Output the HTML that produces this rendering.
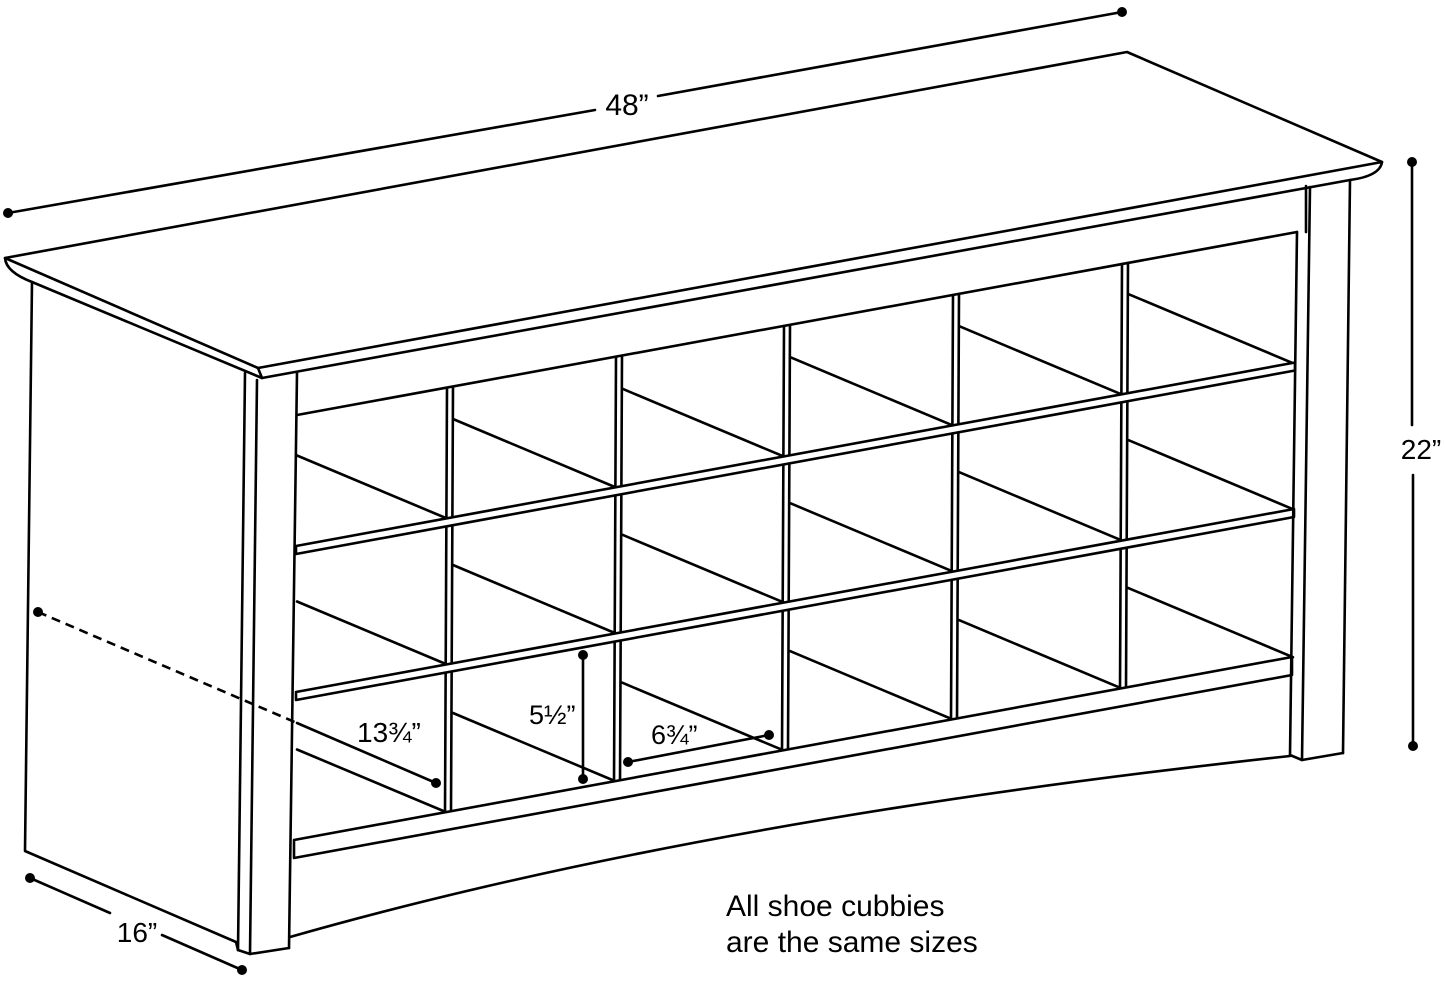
<!DOCTYPE html>
<html><head><meta charset="utf-8"><style>
html,body{margin:0;padding:0;background:#fff;}
svg{display:block;}
text{font-family:"Liberation Sans",Arial,sans-serif;fill:#000;}
</style></head><body>
<svg width="1445" height="983" viewBox="0 0 1445 983" xmlns="http://www.w3.org/2000/svg">
<g fill="none" stroke="#000" stroke-width="2.6" stroke-linejoin="round" stroke-linecap="round">
<polyline points="32,282 25,851 236,942 238,950"/>
<path d="M5,258 L1127,52 L1382,162 L258,368 Z" fill="#fff"/>
<path d="M5,258 Q6,272 32,282 L262,378 L1350,180 Q1380,176 1382,162"/>
<line x1="258" y1="368" x2="262" y2="378"/>
<line x1="297" y1="415" x2="1297" y2="232"/>
<line x1="1306" y1="186" x2="1306" y2="232"/>
<g>
<line x1="447" y1="388" x2="445" y2="812"/><line x1="453" y1="387" x2="451" y2="811"/>
<line x1="616" y1="357" x2="614" y2="782"/><line x1="622" y1="356" x2="620" y2="781"/>
<line x1="784" y1="326" x2="782" y2="751"/><line x1="790" y1="325" x2="788" y2="750"/>
<line x1="953" y1="295" x2="951" y2="720"/><line x1="959" y1="294" x2="957" y2="719"/>
<line x1="1122" y1="264" x2="1120" y2="689"/><line x1="1128" y1="263" x2="1126" y2="688"/>
</g>
<line x1="297" y1="455.5" x2="447" y2="518.5"/>
<line x1="453" y1="419" x2="616" y2="487.5"/>
<line x1="622" y1="388.6" x2="784" y2="456.6"/>
<line x1="790" y1="357.1" x2="953" y2="425.6"/>
<line x1="959" y1="326.1" x2="1122" y2="394.6"/>
<line x1="1128" y1="293.9" x2="1293" y2="363.2"/>
<line x1="297" y1="601.5" x2="447" y2="664.5"/>
<line x1="453" y1="565" x2="616" y2="633.5"/>
<line x1="622" y1="534.6" x2="784" y2="602.6"/>
<line x1="790" y1="503.1" x2="953" y2="571.6"/>
<line x1="959" y1="472.1" x2="1122" y2="540.6"/>
<line x1="1128" y1="439.9" x2="1293" y2="509.2"/>
<line x1="297" y1="749.5" x2="447" y2="812.5"/>
<line x1="453" y1="713" x2="616" y2="781.5"/>
<line x1="622" y1="682.6" x2="784" y2="750.6"/>
<line x1="790" y1="651.1" x2="953" y2="719.6"/>
<line x1="959" y1="620.1" x2="1122" y2="688.6"/>
<line x1="1128" y1="587.9" x2="1293" y2="657.2"/>
<polygon points="296,546 1295,362.5 1295,370.5 296,554" fill="#fff"/>
<polygon points="296,692 1294,509 1294,517 296,700" fill="#fff"/>
<polygon points="294,840 1292,657 1292,675 294,858" fill="#fff"/>
<line x1="245" y1="373" x2="238" y2="950"/>
<line x1="257" y1="380" x2="250" y2="954"/>
<line x1="297" y1="373" x2="289" y2="948"/>
<polyline points="238,950 250,954 289,948"/>
<line x1="1297" y1="232" x2="1290" y2="755"/>
<line x1="1310" y1="187" x2="1302" y2="760"/>
<line x1="1350" y1="180" x2="1343" y2="753"/>
<polyline points="1290,755 1302,760 1343,753"/>
<path d="M290,937 Q700,820 1290,756"/>
<line x1="8" y1="213" x2="595" y2="110"/>
<line x1="658" y1="96" x2="1122" y2="12"/>
<line x1="1412" y1="162" x2="1412" y2="425"/>
<line x1="1413" y1="475" x2="1413" y2="746"/>
<line x1="30" y1="878" x2="110" y2="913"/>
<line x1="162" y1="935" x2="242" y2="970"/>
<line x1="38" y1="612" x2="297" y2="723" stroke-dasharray="9,6" stroke-linecap="butt"/>
<line x1="297" y1="723" x2="436" y2="783"/>
<line x1="583" y1="655" x2="583" y2="779"/>
<line x1="628" y1="762" x2="769" y2="735"/>
</g>
<g fill="#000">
<circle cx="8" cy="213" r="5"/><circle cx="1122" cy="12" r="5"/>
<circle cx="1412" cy="162" r="5"/><circle cx="1413" cy="746" r="5"/>
<circle cx="30" cy="878" r="5"/><circle cx="242" cy="970" r="5"/>
<circle cx="38" cy="612" r="5"/><circle cx="436" cy="783" r="5"/>
<circle cx="583" cy="655" r="5"/><circle cx="583" cy="779" r="5"/>
<circle cx="628" cy="762" r="5"/><circle cx="769" cy="735" r="5"/>
</g>
<text x="627" y="115" font-size="30" text-anchor="middle">48”</text>
<text x="1421" y="459" font-size="28" text-anchor="middle">22”</text>
<text x="137" y="942" font-size="28" text-anchor="middle">16”</text>
<text x="357" y="742" font-size="28">13¾”</text>
<text x="529" y="724" font-size="27">5½”</text>
<text x="651" y="744" font-size="27">6¾”</text>
<text x="726" y="916" font-size="30">All shoe cubbies</text>
<text x="726" y="952" font-size="30">are the same sizes</text>
</svg>
</body></html>
